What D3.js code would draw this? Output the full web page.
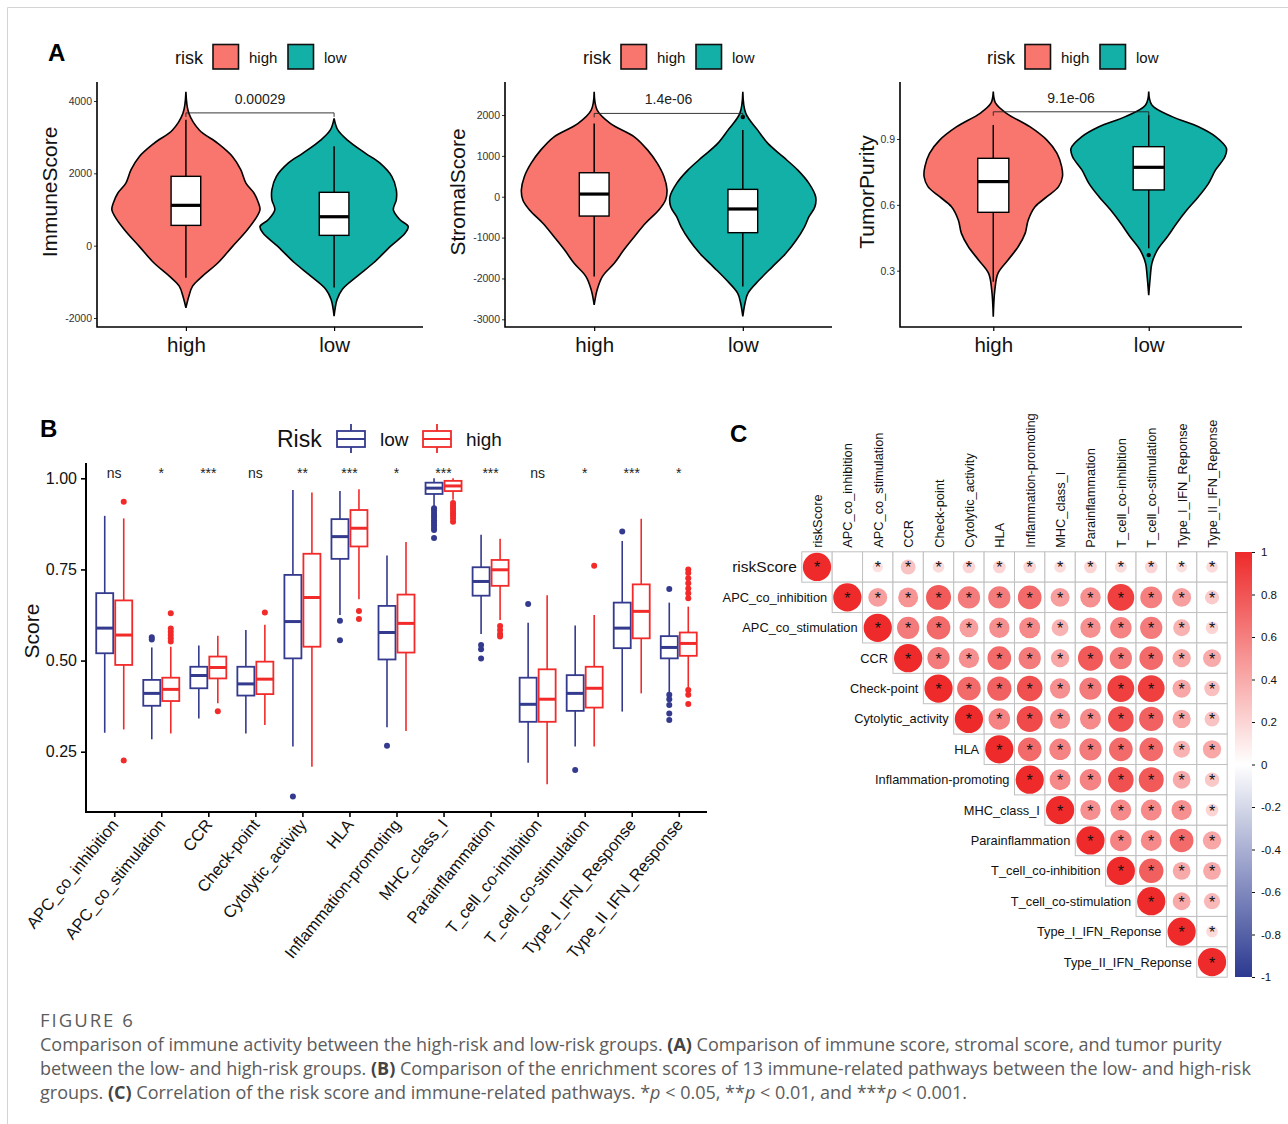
<!DOCTYPE html>
<html>
<head>
<meta charset="utf-8">
<script src="https://cdn.jsdelivr.net/npm/d3@7"></script>
<style>
  body { margin: 0; background: #fff; }
  svg { display: block; }
  text { font-family: "Liberation Sans", Arial, Helvetica, sans-serif; }
  .cap { font-family: "Open Sans", "Noto Sans", sans-serif; }
</style>
</head>
<body>
<svg id="fig" width="1288" height="1124"></svg>
<script>
// ---------------- Panel A: ESTIMATE scores by risk group ----------------
const riskLevels = ["high", "low"];
const riskFill = ["#F8766D", "#12B0A6"];

// violin outlines: [score, relative density width]
const immuneHighDensity = [[4257,0],[3660,.04],[3200,.18],[2830,.43],[2460,.63],[2100,.74],[1730,.81],[1450,.92],[1180,.98],[995,1],[810,.96],[440,.83],[-20,.63],[-480,.43],[-850,.22],[-1120,.09],[-1400,.04],[-1720,0]];
const immuneLowDensity = [[3520,0],[3200,.05],[2920,.18],[2560,.42],[2280,.62],[1910,.78],[1545,.84],[1270,.84],[990,.80],[717,.89],[530,1],[350,.96],[-20,.76],[-480,.53],[-850,.31],[-1210,.11],[-1490,.04],[-1950,0]];
const stromalHighDensity = [[2567,0],[2120,.04],[1790,.22],[1467,.54],[1140,.72],[815,.85],[490,.94],[163,.98],[-80,.96],[-326,.87],[-650,.69],[-980,.54],[-1300,.40],[-1630,.27],[-1955,.11],[-2280,.04],[-2650,0]];
const stromalLowDensity = [[2570,0],[2040,.04],[1630,.2],[1300,.34],[980,.54],[650,.74],[326,.89],[0,.98],[-245,.97],[-490,.89],[-735,.83],[-1060,.72],[-1385,.58],[-1710,.40],[-2040,.22],[-2360,.07],[-2600,.03],[-2930,0]];
const purityHighDensity = [[1.116,0],[1.063,.03],[1.017,.17],[0.956,.47],[0.895,.69],[0.835,.82],[0.774,.88],[0.728,.89],[0.683,.84],[0.637,.69],[0.592,.54],[0.531,.45],[0.470,.41],[0.409,.32],[0.349,.19],[0.288,.06],[0.212,.02],[0.090,0]];
const purityLowDensity = [[1.116,0],[1.055,.04],[1.002,.30],[0.956,.64],[0.911,.86],[0.857,1],[0.819,.98],[0.759,.86],[0.698,.77],[0.637,.64],[0.576,.49],[0.516,.36],[0.455,.24],[0.394,.11],[0.333,.04],[0.273,.02],[0.189,0]];

// box summaries: [lower whisker, Q1, median, Q3, upper whisker]
const immuneBoxHigh = [-885, 561, 1115, 1917, 3480];
const immuneBoxLow = [-1160, 285, 800, 1475, 2750];
const stromalBoxHigh = [-1955, -473, 65, 587, 1790];
const stromalBoxLow = [-2200, -880, -300, 180, 1630];
const purityBoxHigh = [0.25, 0.566, 0.706, 0.812, 0.964];
const purityBoxLow = [0.402, 0.668, 0.771, 0.865, 1.009];
const stromalOutliersLow = [1950];
const purityOutliersLow = [0.371];

const immuneTicks = [-2000, 0, 2000, 4000];
const stromalTicks = [-3000, -2000, -1000, 0, 1000, 2000];
const purityTicks = [0.3, 0.6, 0.9];
const pValues = ["0.00029", "1.4e-06", "9.1e-06"];
const bracketLevels = [3671, 2039, 1.024];

// ---------------- Panel B: immune pathway scores ----------------
const pathways = ["APC_co_inhibition","APC_co_stimulation","CCR","Check-point","Cytolytic_activity","HLA","Inflammation-promoting","MHC_class_I","Parainflammation","T_cell_co-inhibition","T_cell_co-stimulation","Type_I_IFN_Response","Type_II_IFN_Response"];
const pathwaySig = ["ns","*","***","ns","**","***","*","***","***","ns","*","***","*"];
const riskGroupsB = ["low", "high"];
const riskColorsB = ["#343A8E", "#F22A2A"];
const lowBoxes = [
  [0.302,0.520,0.589,0.685,0.897],[0.284,0.376,0.410,0.447,0.536],[0.341,0.424,0.459,0.483,0.541],
  [0.300,0.404,0.436,0.483,0.584],[0.264,0.506,0.607,0.735,0.968],[0.625,0.779,0.840,0.888,0.965],
  [0.317,0.503,0.577,0.650,0.788],[0.922,0.957,0.973,0.988,1.000],[0.573,0.678,0.717,0.756,0.845],
  [0.220,0.332,0.380,0.453,0.604],[0.264,0.362,0.410,0.460,0.596],[0.360,0.534,0.589,0.659,0.828],
  [0.410,0.506,0.536,0.567,0.659]];
const highBoxes = [
  [0.311,0.488,0.570,0.665,0.890],[0.300,0.389,0.421,0.453,0.538],[0.383,0.451,0.481,0.511,0.568],
  [0.323,0.408,0.449,0.497,0.598],[0.209,0.538,0.673,0.793,0.961],[0.668,0.813,0.863,0.913,0.970],
  [0.307,0.522,0.602,0.681,0.825],[0.941,0.965,0.979,0.993,1.000],[0.611,0.705,0.749,0.776,0.834],
  [0.161,0.332,0.394,0.476,0.679],[0.264,0.371,0.424,0.483,0.625],[0.410,0.561,0.635,0.709,0.889],
  [0.424,0.513,0.547,0.577,0.648]];
const lowOutliers = [[],[0.564,0.558],[],[],[0.127],[0.609,0.556],[0.266],
  [0.918,0.912,0.905,0.898,0.892,0.885,0.878,0.871,0.864,0.858,0.836],[0.543,0.531,0.506],[0.655],[0.200],[0.854],
  [0.696,0.406,0.394,0.378,0.355,0.337]];
const highOutliers = [[0.936,0.226],[0.630,0.588,0.579,0.570,0.561,0.552],[0.361],[0.632],[],[0.636,0.614],[],
  [0.932,0.925,0.918,0.911,0.904,0.897,0.890,0.881],[0.595,0.584,0.573,0.566],[],[0.760],[],
  [0.750,0.740,0.726,0.712,0.698,0.685,0.671,0.419,0.406,0.381]];
const scoreTicks = [0.25, 0.50, 0.75, 1.00];

// ---------------- Panel C: correlation matrix (upper triangle) ----------------
const corrVars = ["riskScore","APC_co_inhibition","APC_co_stimulation","CCR","Check-point","Cytolytic_activity","HLA","Inflammation-promoting","MHC_class_I","Parainflammation","T_cell_co-inhibition","T_cell_co-stimulation","Type_I_IFN_Reponse","Type_II_IFN_Reponse"];
// row i lists correlations with columns i..13 (null = not significant, left blank)
const corrUpper = [
  [1, null, 0.14, 0.28, 0.17, 0.2, 0.2, 0.2, 0.17, 0.2, 0.17, 0.2, 0.15, 0.17],
  [1, 0.45, 0.5, 0.78, 0.62, 0.62, 0.7, 0.45, 0.52, 0.9, 0.6, 0.45, 0.25],
  [1, 0.62, 0.7, 0.45, 0.52, 0.55, 0.36, 0.52, 0.58, 0.62, 0.36, 0.2],
  [1, 0.62, 0.52, 0.7, 0.62, 0.42, 0.78, 0.62, 0.7, 0.42, 0.4],
  [1, 0.7, 0.74, 0.82, 0.52, 0.62, 0.9, 0.9, 0.42, 0.3],
  [1, 0.58, 0.85, 0.52, 0.55, 0.82, 0.74, 0.42, 0.28],
  [1, 0.7, 0.58, 0.62, 0.7, 0.7, 0.36, 0.42],
  [1, 0.55, 0.58, 0.82, 0.78, 0.4, 0.26],
  [1, 0.52, 0.55, 0.55, 0.52, 0.2],
  [1, 0.58, 0.55, 0.7, 0.42],
  [1, 0.75, 0.4, 0.4],
  [1, 0.4, 0.33],
  [1, 0.17],
  [1]];
const corrTicks = [-1, -0.8, -0.6, -0.4, -0.2, 0, 0.2, 0.4, 0.6, 0.8, 1];

// ---------------- caption ----------------
const captionTitle = "FIGURE 6";
const captionLines = [
  [["Comparison of immune activity between the high-risk and low-risk groups. ",""],["(A)","b"],[" Comparison of immune score, stromal score, and tumor purity",""]],
  [["between the low- and high-risk groups. ",""],["(B)","b"],[" Comparison of the enrichment scores of 13 immune-related pathways between the low- and high-risk",""]],
  [["groups. ",""],["(C)","b"],[" Correlation of the risk score and immune-related pathways. *",""],["p","i"],[" < 0.05, **",""],["p","i"],[" < 0.01, and ***",""],["p","i"],[" < 0.001.",""]]
];

const svg = d3.select("#fig");
const plainNum = d => String(d);

// card outline
svg.append("path").attr("d", "M7.5,1124V7.5H1288").attr("fill", "none").attr("stroke", "#d4d4d4").attr("stroke-width", 1);

// panel letters
[["A", 48, 61], ["B", 40, 437], ["C", 730, 442]].forEach(([t, x, y]) =>
  svg.append("text").attr("x", x).attr("y", y).attr("font-size", 24).attr("font-weight", "bold").attr("fill", "#000").text(t));

// ---------------- violin panels ----------------
function violinPanel(cfg) {
  const g = svg.append("g");
  const x = d3.scalePoint().domain(riskLevels).range([cfg.left, cfg.right]).padding(0.6);
  const y = d3.scaleLinear().domain(cfg.domain).range(cfg.range);
  const half = x.step() / 2;
  const boxW = x.step() * 0.2;

  const ya = g.append("g").attr("transform", `translate(${cfg.left},0)`)
    .call(d3.axisLeft(y).tickValues(cfg.ticks).tickSize(3).tickPadding(2).tickFormat(cfg.fmt));
  ya.select(".domain").remove();
  ya.selectAll("line").attr("stroke", "#333");
  ya.selectAll("text").attr("font-size", 10.5).attr("fill", "#333").attr("font-family", "Liberation Sans, Arial");
  const xa = g.append("g").attr("transform", `translate(0,${cfg.bottom})`)
    .call(d3.axisBottom(x).tickSize(4).tickPadding(6));
  xa.select(".domain").remove();
  xa.selectAll("line").attr("stroke", "#000").attr("stroke-width", 1.2);
  xa.selectAll("text").attr("font-size", 20.5).attr("fill", "#111").attr("font-family", "Liberation Sans, Arial");
  g.append("path").attr("d", `M${cfg.left},${cfg.top}V${cfg.bottom}H${cfg.right}`)
    .attr("fill", "none").attr("stroke", "#000").attr("stroke-width", 1.6);

  g.append("text").attr("transform", `translate(${cfg.titleX},192) rotate(-90)`)
    .attr("text-anchor", "middle").attr("font-size", 21).attr("fill", "#111").text(cfg.title);

  const area = d3.area().curve(d3.curveCatmullRom.alpha(0.5));
  cfg.density.forEach((dens, i) => {
    const cx = x(riskLevels[i]);
    area.y(d => y(d[0])).x0(d => cx - d[1] * half).x1(d => cx + d[1] * half);
    g.append("path").attr("d", area(dens)).attr("fill", riskFill[i])
      .attr("stroke", "#000").attr("stroke-width", 1.6);
    const b = cfg.boxes[i];
    g.append("line").attr("x1", cx).attr("x2", cx).attr("y1", y(b[0])).attr("y2", y(b[4]))
      .attr("stroke", "#000").attr("stroke-width", 1.5);
    g.append("rect").attr("x", cx - boxW / 2).attr("width", boxW)
      .attr("y", y(b[3])).attr("height", y(b[1]) - y(b[3]))
      .attr("fill", "#fff").attr("stroke", "#000").attr("stroke-width", 1.4);
    g.append("line").attr("x1", cx - boxW / 2).attr("x2", cx + boxW / 2).attr("y1", y(b[2])).attr("y2", y(b[2]))
      .attr("stroke", "#000").attr("stroke-width", 3.2);
    (cfg.outliers[i] || []).forEach(v =>
      g.append("circle").attr("cx", cx).attr("cy", y(v)).attr("r", 2.2).attr("fill", "#000"));
  });

  // significance bracket
  const yb = y(cfg.bracket);
  const x1 = x(riskLevels[0]), x2 = x(riskLevels[1]);
  g.append("path").attr("d", `M${x1},${yb + 4}V${yb}H${x2}V${yb + 4}`)
    .attr("fill", "none").attr("stroke", "#222").attr("stroke-width", 0.9);
  g.append("text").attr("x", (x1 + x2) / 2).attr("y", yb - 9).attr("text-anchor", "middle")
    .attr("font-size", 14).attr("fill", "#222").text(cfg.p);

  // legend
  const L = cfg.legendX;
  g.append("text").attr("x", L).attr("y", 63.5).attr("font-size", 18).attr("fill", "#111").text("risk");
  riskLevels.forEach((lv, i) => {
    const bx = L + (i === 0 ? 38 : 113);
    g.append("rect").attr("x", bx).attr("y", 44.5).attr("width", 25.5).attr("height", 24.5)
      .attr("fill", riskFill[i]).attr("stroke", "#111").attr("stroke-width", 1.6);
    g.append("text").attr("x", bx + 36).attr("y", 62.5).attr("font-size", 15).attr("fill", "#111").text(lv);
  });
}

violinPanel({ left: 97, right: 423, top: 82, bottom: 327, domain: [-2000, 4000], range: [318, 101],
  ticks: immuneTicks, fmt: plainNum, title: "ImmuneScore", titleX: 57,
  density: [immuneHighDensity, immuneLowDensity], boxes: [immuneBoxHigh, immuneBoxLow], outliers: [[], []],
  bracket: bracketLevels[0], p: pValues[0], legendX: 175 });
violinPanel({ left: 505, right: 832, top: 82, bottom: 327, domain: [-3000, 2000], range: [319.3, 115],
  ticks: stromalTicks, fmt: plainNum, title: "StromalScore", titleX: 465,
  density: [stromalHighDensity, stromalLowDensity], boxes: [stromalBoxHigh, stromalBoxLow], outliers: [[], stromalOutliersLow],
  bracket: bracketLevels[1], p: pValues[1], legendX: 583 });
violinPanel({ left: 900, right: 1242, top: 82, bottom: 327, domain: [0.3, 0.9], range: [270.7, 139],
  ticks: purityTicks, fmt: d3.format(".1f"), title: "TumorPurity", titleX: 874,
  density: [purityHighDensity, purityLowDensity], boxes: [purityBoxHigh, purityBoxLow], outliers: [[], purityOutliersLow],
  bracket: bracketLevels[2], p: pValues[2], legendX: 987 });

// ---------------- Panel B: grouped boxplots ----------------
(function () {
  const left = 86, right = 707, top = 463, bottom = 812;
  const g = svg.append("g");
  const x = d3.scalePoint().domain(pathways).range([left, right]).padding(0.6);
  const y = d3.scaleLinear().domain([0.25, 1.0]).range([751.7, 478.3]);
  const dodge = 9.5, bw = 17;

  const ya = g.append("g").attr("transform", `translate(${left},0)`)
    .call(d3.axisLeft(y).tickValues(scoreTicks).tickSize(5).tickPadding(4).tickFormat(d3.format(".2f")));
  ya.select(".domain").remove();
  ya.selectAll("line").attr("stroke", "#000").attr("stroke-width", 1.6);
  ya.selectAll("text").attr("font-size", 16).attr("fill", "#111").attr("font-family", "Liberation Sans, Arial");

  const xa = g.append("g").attr("transform", `translate(0,${bottom})`)
    .call(d3.axisBottom(x).tickSize(5).tickFormat(""));
  xa.select(".domain").remove();
  xa.selectAll("line").attr("stroke", "#000").attr("stroke-width", 1.6);
  pathways.forEach(p => {
    g.append("text").attr("transform", `translate(${x(p) + 5},${bottom + 13}) rotate(-51)`)
      .attr("text-anchor", "end").attr("font-size", 16.5).attr("fill", "#111").text(p);
  });

  g.append("path").attr("d", `M${left},${top}V${bottom}H${right}`)
    .attr("fill", "none").attr("stroke", "#000").attr("stroke-width", 2);

  g.append("text").attr("transform", `translate(39,631) rotate(-90)`).attr("text-anchor", "middle")
    .attr("font-size", 21).attr("fill", "#111").text("Score");

  const groups = [[lowBoxes, lowOutliers, -dodge], [highBoxes, highOutliers, dodge]];
  groups.forEach(([boxes, outs, off], gi) => {
    const col = riskColorsB[gi];
    pathways.forEach((p, i) => {
      const cx = x(p) + off, b = boxes[i];
      g.append("line").attr("x1", cx).attr("x2", cx).attr("y1", y(b[4])).attr("y2", y(b[3]))
        .attr("stroke", col).attr("stroke-width", 1.6);
      g.append("line").attr("x1", cx).attr("x2", cx).attr("y1", y(b[1])).attr("y2", y(b[0]))
        .attr("stroke", col).attr("stroke-width", 1.6);
      g.append("rect").attr("x", cx - bw / 2).attr("width", bw).attr("y", y(b[3])).attr("height", y(b[1]) - y(b[3]))
        .attr("fill", "#fff").attr("stroke", col).attr("stroke-width", 1.8);
      g.append("line").attr("x1", cx - bw / 2).attr("x2", cx + bw / 2).attr("y1", y(b[2])).attr("y2", y(b[2]))
        .attr("stroke", col).attr("stroke-width", 3);
      outs[i].forEach(v => g.append("circle").attr("cx", cx).attr("cy", y(v)).attr("r", 3).attr("fill", col));
    });
  });

  pathways.forEach((p, i) => {
    g.append("text").attr("x", x(p)).attr("y", 477.5).attr("text-anchor", "middle")
      .attr("font-size", 14).attr("fill", "#222").text(pathwaySig[i]);
  });

  // legend
  g.append("text").attr("x", 277).attr("y", 447).attr("font-size", 23).attr("fill", "#111").text("Risk");
  const legX = [337, 423];
  riskGroupsB.forEach((lv, i) => {
    const lx = legX[i], col = riskColorsB[i], w = 28;
    g.append("path").attr("d", `M${lx + w / 2},424V431M${lx + w / 2},447V453M${lx},439H${lx + w}`)
      .attr("stroke", col).attr("stroke-width", 1.8).attr("fill", "none");
    g.append("rect").attr("x", lx).attr("y", 431).attr("width", w).attr("height", 16)
      .attr("fill", "none").attr("stroke", col).attr("stroke-width", 1.8);
    g.append("text").attr("x", lx + 43).attr("y", 446).attr("font-size", 19).attr("fill", "#111").text(lv);
  });
})();

// ---------------- Panel C: correlation circles ----------------
(function () {
  const g = svg.append("g");
  const xC = d3.scaleBand().domain(corrVars).range([801.8, 1227.2]);
  const yC = d3.scaleBand().domain(corrVars).range([551.8, 977.2]);
  const cs = xC.bandwidth(), half = cs / 2;
  const color = d3.scaleLinear().domain([-1, 0, 1]).range(["#2B3990", "#ffffff", "#EE2A2A"]);

  corrUpper.forEach((row, i) => {
    row.forEach((r, k) => {
      const j = i + k;
      g.append("rect").attr("x", xC(corrVars[j])).attr("y", yC(corrVars[i])).attr("width", cs).attr("height", cs)
        .attr("fill", "#fff").attr("stroke", "#c0c0c0").attr("stroke-width", 1);
    });
  });
  corrUpper.forEach((row, i) => {
    row.forEach((r, k) => {
      if (r === null) return;
      const j = i + k;
      const cx = xC(corrVars[j]) + half, cy = yC(corrVars[i]) + half;
      g.append("circle").attr("cx", cx).attr("cy", cy).attr("r", Math.sqrt(Math.abs(r)) * half * 0.93)
        .attr("fill", color(r));
      g.append("text").attr("x", cx).attr("y", cy + 6.5).attr("text-anchor", "middle")
        .attr("font-size", 16).attr("fill", "#111").text("*");
    });
  });

  corrVars.forEach(v => {
    g.append("text").attr("transform", `translate(${xC(v) + half + 5},${551.8 - 4}) rotate(-90)`)
      .attr("font-size", 12.8).attr("fill", "#111").text(v);
  });
  corrVars.forEach((v, i) => {
    g.append("text").attr("x", xC(v) - 5).attr("y", yC(v) + half + (i === 0 ? 5.5 : 4.5))
      .attr("text-anchor", "end").attr("font-size", i === 0 ? 15.5 : 12.8).attr("fill", "#111").text(v);
  });

  // colour bar
  const cb = d3.scaleLinear().domain([-1, 1]).range([977, 552]);
  const defs = svg.append("defs");
  const grad = defs.append("linearGradient").attr("id", "corrGrad").attr("x1", 0).attr("y1", 1).attr("x2", 0).attr("y2", 0);
  d3.range(-1, 1.0001, 0.25).forEach(v =>
    grad.append("stop").attr("offset", (v + 1) / 2).attr("stop-color", color(v)));
  g.append("rect").attr("x", 1235).attr("y", cb(1)).attr("width", 17).attr("height", cb(-1) - cb(1))
    .attr("fill", "url(#corrGrad)");
  const ca = g.append("g").attr("transform", "translate(1252,0)")
    .call(d3.axisRight(cb).tickValues(corrTicks).tickSize(3).tickPadding(6).tickFormat(plainNum));
  ca.select(".domain").remove();
  ca.selectAll("line").attr("stroke", "#111");
  ca.selectAll("text").attr("font-size", 11.5).attr("fill", "#111").attr("font-family", "Liberation Sans, Arial");
})();

// ---------------- caption ----------------
svg.append("text").attr("class", "cap").attr("x", 40).attr("y", 1027).attr("font-size", 18.5)
  .attr("fill", "#5c5c5c").attr("letter-spacing", 2).text(captionTitle);
captionLines.forEach((segs, li) => {
  const t = svg.append("text").attr("class", "cap").attr("x", 40).attr("y", 1051 + li * 24)
    .attr("font-size", 18).attr("fill", "#5c5c5c");
  segs.forEach(([s, st]) => {
    const ts = t.append("tspan").text(s);
    if (st === "b") ts.attr("font-weight", "bold").attr("fill", "#444");
    if (st === "i") ts.attr("font-style", "italic");
  });
});
</script>
</body>
</html>
